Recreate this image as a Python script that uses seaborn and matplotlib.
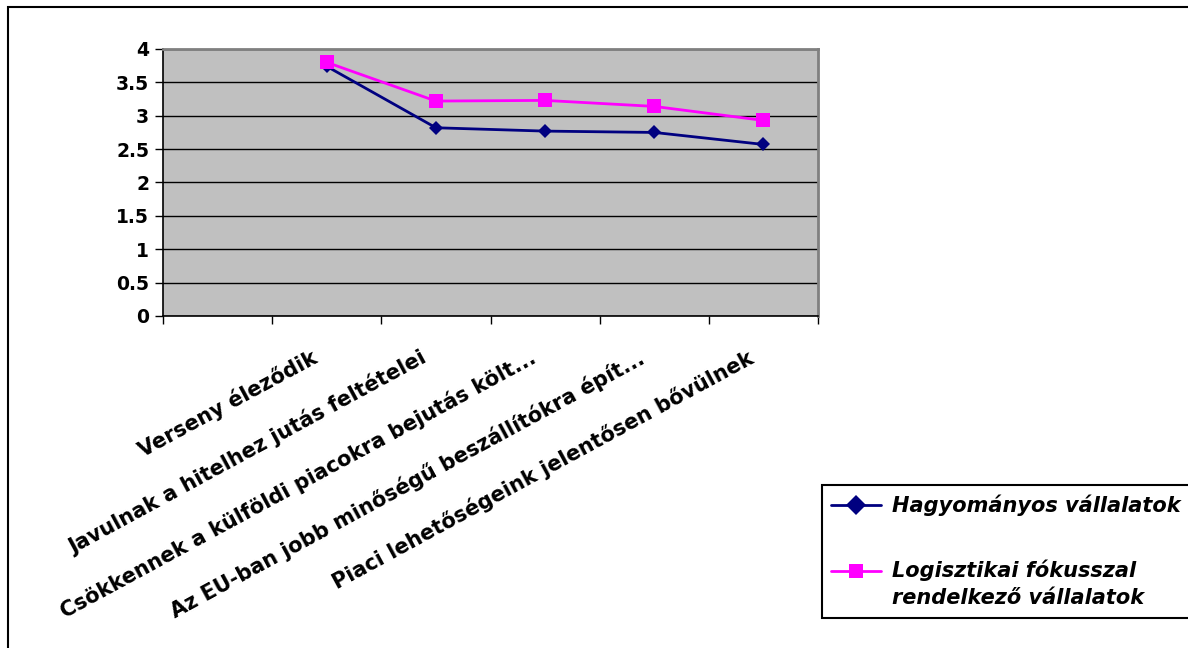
import numpy as np
import pandas as pd
import matplotlib
matplotlib.use("Agg")
import matplotlib.pyplot as plt
import matplotlib.patches as mpatches
import matplotlib.transforms as mtransforms
from matplotlib.legend_handler import HandlerLine2D
import seaborn as sns

categories = [
    "Verseny éleződik",
    "Javulnak a hitelhez jutás feltételei",
    "Csökkennek a külföldi piacokra bejutás költ...",
    "Az EU-ban jobb minőségű beszállítókra épít...",
    "Piaci lehetőségeink jelentősen bővülnek",
]
hagyomanyos = [3.74, 2.82, 2.77, 2.75, 2.57]
logisztikai = [3.80, 3.22, 3.23, 3.14, 2.93]
series_names = ["Hagyományos vállalatok", "Logisztikai fókusszal\nrendelkező vállalatok"]
y_ticks = [0, 0.5, 1, 1.5, 2, 2.5, 3, 3.5, 4]
y_tick_labels = ["0", "0.5", "1", "1.5", "2", "2.5", "3", "3.5", "4"]


class RaisedLineHandler(HandlerLine2D):
    """Line handler that lifts the sample to the first line of a two-line label."""

    def __init__(self, dy, **kwargs):
        super().__init__(**kwargs)
        self.dy = dy

    def create_artists(self, legend, orig_handle, xdescent, ydescent, width,
                       height, fontsize, trans):
        artists = super().create_artists(legend, orig_handle, xdescent, ydescent,
                                         width, height, fontsize, trans)
        for a in artists:
            a.set_ydata(np.asarray(a.get_ydata(), dtype=float) + self.dy)
        return artists


sns.set_style("white")
plt.rcParams["font.family"] = ["DejaVu Sans"]
plt.rcParams["text.color"] = "black"
plt.rcParams["xtick.color"] = "black"
plt.rcParams["ytick.color"] = "black"

pos = np.arange(len(categories))
df = pd.DataFrame({
    "pos": np.concatenate([pos, pos]),
    "value": hagyomanyos + logisztikai,
    "series": [series_names[0]] * len(pos) + [series_names[1]] * len(pos),
})

fig = plt.figure(figsize=(11.88, 6.48), dpi=100)
ax = fig.add_axes([163 / 1188, 1 - 316 / 648, (818 - 163) / 1188, (316 - 49) / 648])
ax.set_facecolor("#C0C0C0")

sns.lineplot(
    data=df, x="pos", y="value", hue="series", style="series",
    palette=["#000080", "#FF00FF"], markers=["D", "s"], dashes=False,
    markersize=10, linewidth=2, markeredgewidth=0, ax=ax, legend=True,
)
# diamond drawn a bit smaller than the square
for line, ms in zip(ax.lines[:2], [7.5, 10.5]):
    line.set_markersize(ms)

ax.set_xlim(-1.5, 4.5)
ax.set_ylim(0, 4)
ax.set_xlabel("")
ax.set_ylabel("")

ax.set_yticks(y_ticks)
ax.set_yticklabels(y_tick_labels, fontsize=13.5, fontweight="bold", color="black")
ax.yaxis.grid(True, color="black", linewidth=1)
ax.xaxis.grid(False)
ax.set_axisbelow(True)

# tick marks sit on the category boundaries
ax.set_xticks(np.arange(-1.5, 4.6, 1.0))
ax.set_xticklabels([])
ax.tick_params(axis="x", which="major", length=6, width=1, direction="out", color="black", bottom=True)
ax.tick_params(axis="y", length=6, width=1, direction="out", color="black", left=True, pad=4)

# slanted category labels, right end just below each category
label_trans = mtransforms.blended_transform_factory(ax.transData, ax.transAxes) + \
    mtransforms.ScaledTranslation(-16 / 100, -31 / 100, fig.dpi_scale_trans)
for p, cat in zip(pos, categories):
    ax.text(p, 0, cat, transform=label_trans, rotation=28.5, rotation_mode="anchor",
            ha="right", va="top", fontsize=15, fontweight="bold", color="black")

for side in ["left", "bottom"]:
    ax.spines[side].set_color("black")
    ax.spines[side].set_linewidth(1.2)
for side in ["top", "right"]:
    ax.spines[side].set_color("#808080")
    ax.spines[side].set_linewidth(2)

handles, labels = ax.get_legend_handles_labels()
ax.get_legend().remove()
leg = fig.legend(
    handles, labels, loc="upper left", bbox_to_anchor=(822 / 1188, 1 - 485 / 648),
    borderaxespad=0,
    frameon=True, fancybox=False, edgecolor="black", framealpha=1,
    prop={"family": ["DejaVu Sans"], "weight": "bold", "style": "italic", "size": 15},
    handlelength=2.4, handletextpad=0.5, labelspacing=2.1, borderpad=0.45,
    handler_map={handles[1]: RaisedLineHandler(dy=10)},
)
leg.get_frame().set_linewidth(1.5)
for t in leg.get_texts():
    t.set_color("black")
    t.set_linespacing(1.45)

# outer chart frame
frame = mpatches.Rectangle((8 / 1188, -0.1), 1.2, 1.1 - 7 / 648, transform=fig.transFigure,
                           fill=False, edgecolor="black", linewidth=1.5, clip_on=False)
fig.patches.append(frame)

fig.savefig("out.png", dpi=100)
